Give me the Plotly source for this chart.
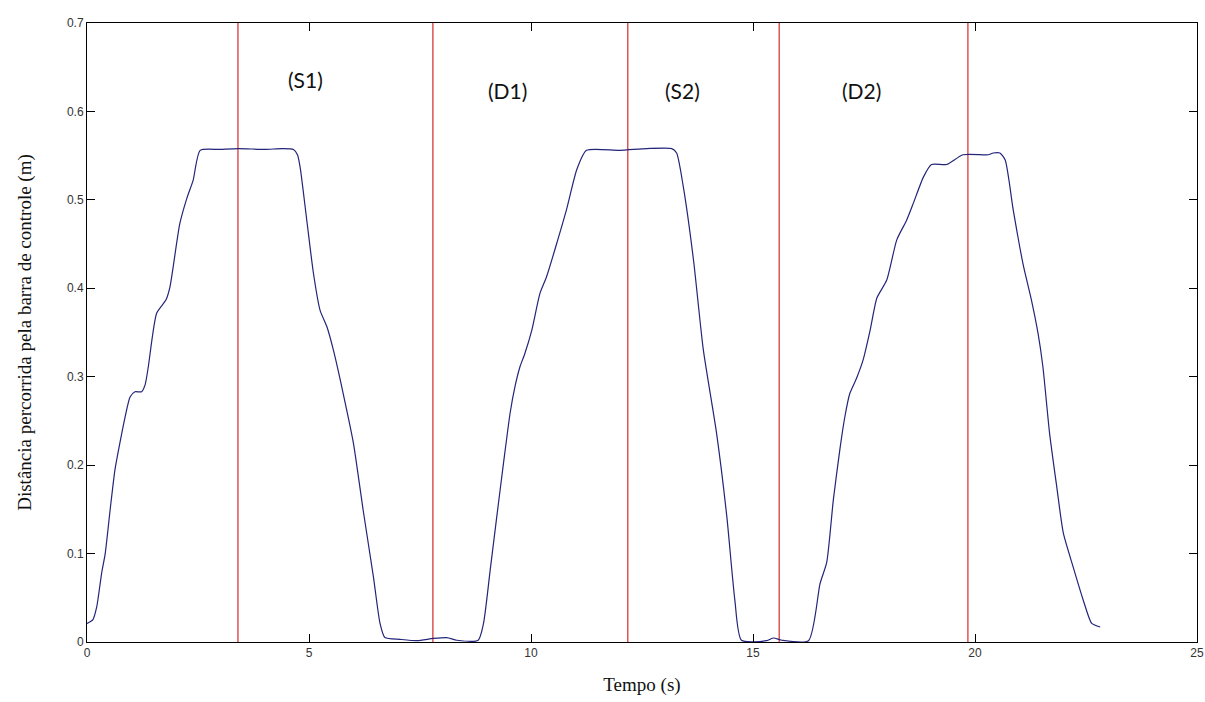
import plotly.graph_objects as go

# Time (s) and distance (m)
tempo = [0.00, 0.13, 0.22, 0.33, 0.41, 0.52, 0.63, 0.74, 0.86, 0.97, 1.08, 1.23, 1.31, 1.38,
         1.57, 1.78, 1.87, 2.09, 2.25, 2.39, 2.55, 3.00, 3.41, 4.00, 4.40, 4.65, 4.74, 4.80,
         4.95, 5.10, 5.25, 5.40, 5.55, 5.77, 6.00, 6.22, 6.45, 6.60, 6.71, 7.05, 7.43, 7.80,
         8.10, 8.33, 8.81, 8.93, 9.08, 9.23, 9.38, 9.53, 9.64, 9.75, 9.86, 10.02, 10.20, 10.35,
         10.80, 11.03, 11.25, 12.00, 12.61, 13.17, 13.28, 13.43, 13.66, 13.88, 14.18, 14.41,
         14.59, 14.74, 15.31, 15.46, 15.65, 16.25, 16.51, 16.66, 16.81, 16.96, 17.07, 17.18,
         17.33, 17.48, 17.64, 17.79, 18.01, 18.24, 18.46, 18.61, 18.84, 19.02, 19.36, 19.73,
         20.30, 20.41, 20.56, 20.68, 20.86, 21.08, 21.27, 21.42, 21.53, 21.68, 21.84, 21.99,
         22.21, 22.44, 22.63, 22.82]
distancia = [0.021, 0.025, 0.040, 0.078, 0.100, 0.149, 0.195, 0.225, 0.255, 0.277, 0.283, 0.283,
             0.291, 0.311, 0.372, 0.387, 0.402, 0.473, 0.502, 0.522, 0.556, 0.557, 0.558, 0.557,
             0.558, 0.557, 0.551, 0.537, 0.477, 0.417, 0.375, 0.357, 0.330, 0.281, 0.225, 0.149,
             0.074, 0.021, 0.005, 0.003, 0.0015, 0.004, 0.005, 0.002, 0.002, 0.021, 0.081, 0.142,
             0.202, 0.259, 0.289, 0.311, 0.326, 0.353, 0.394, 0.413, 0.489, 0.534, 0.556, 0.556,
             0.558, 0.558, 0.553, 0.515, 0.432, 0.331, 0.236, 0.142, 0.048, 0.002, 0.0015,
             0.0045, 0.002, 0.0015, 0.066, 0.090, 0.161, 0.219, 0.255, 0.281, 0.298, 0.319,
             0.353, 0.389, 0.409, 0.455, 0.477, 0.496, 0.526, 0.540, 0.540, 0.551, 0.551, 0.553,
             0.553, 0.545, 0.489, 0.428, 0.387, 0.349, 0.311, 0.236, 0.176, 0.123, 0.085, 0.047,
             0.021, 0.017]

# Phase boundaries (red vertical lines)
limites = [3.40, 7.79, 12.18, 15.59, 19.84]

# Phase labels
fases = ["(S1)", "(D1)", "(S2)", "(D2)"]
fases_x = [4.91, 9.48, 13.42, 17.45]
fases_y = [0.636, 0.624, 0.624, 0.624]

x_ticks = [0, 5, 10, 15, 20, 25]
x_ticktext = ["0", "5", "10", "15", "20", "25"]
y_ticks = [0, 0.1, 0.2, 0.3, 0.4, 0.5, 0.6, 0.7]
y_ticktext = ["0", "0.1", "0.2", "0.3", "0.4", "0.5", "0.6", "0.7"]

fig = go.Figure()

for v in limites:
    fig.add_trace(go.Scatter(x=[v, v], y=[0, 0.7], mode="lines",
                             line=dict(color="#d83a3a", width=1.3),
                             showlegend=False, hoverinfo="skip"))

fig.add_trace(go.Scatter(x=tempo, y=distancia, mode="lines",
                         line=dict(color="#24247a", width=1.2, shape="spline", smoothing=0.6),
                         showlegend=False))

for txt, xx, yy in zip(fases, fases_x, fases_y):
    fig.add_annotation(x=xx, y=yy, text=txt, showarrow=False,
                       font=dict(family="Lato, Open Sans, sans-serif", size=21, color="#111"))

axis_common = dict(showline=True, linecolor="black", linewidth=1, mirror="ticks",
                   ticks="inside", ticklen=8, tickcolor="black", showgrid=False,
                   zeroline=False, automargin=False,
                   tickfont=dict(family="Liberation Sans, Arial, sans-serif", size=12, color="#333"))

fig.update_xaxes(range=[0, 25], tickvals=x_ticks, ticktext=x_ticktext,
                 title=dict(text="Tempo (s)", standoff=18,
                            font=dict(family="Liberation Serif, Times New Roman, serif", size=19, color="#111")),
                 **axis_common)
fig.update_yaxes(range=[0, 0.7], tickvals=y_ticks, ticktext=y_ticktext,
                 title=dict(text="Distância percorrida pela barra de controle (m)", standoff=30,
                            font=dict(family="Liberation Serif, Times New Roman, serif", size=19, color="#111")),
                 **axis_common)

fig.update_layout(width=1205, height=702,
                  margin=dict(l=87, r=8, t=23, b=60),
                  plot_bgcolor="white", paper_bgcolor="white")

fig.write_html("out.html")
